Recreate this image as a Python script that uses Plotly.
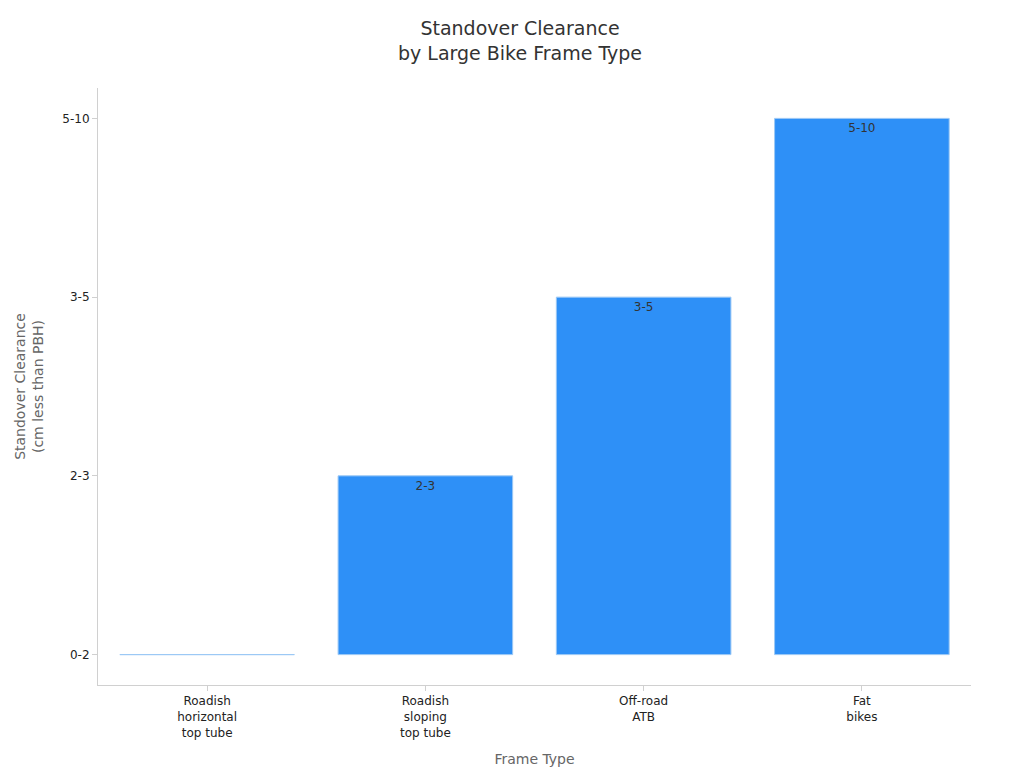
import plotly.graph_objects as go

frames = ["Roadish<br>horizontal<br>top tube", "Roadish<br>sloping<br>top tube", "Off-road<br>ATB", "Fat<br>bikes"]
clearance = ["0-2", "2-3", "3-5", "5-10"]
labels = ["", "2-3", "3-5", "5-10"]

fig = go.Figure(go.Bar(
    x=frames, y=clearance, text=labels,
    textposition="inside", insidetextanchor="end",
    textfont=dict(color="#333333", size=12),
    marker=dict(color="#2E90F7", line=dict(color="#9CC8F5", width=1)),
    width=0.8,
))
fig.update_layout(
    width=1024, height=768,
    font=dict(family="DejaVu Sans", size=12, color="#222222"),
    title=dict(text="Standover Clearance<br>by Large Bike Frame Type", x=0.5, y=0.965,
               xanchor="center", font=dict(size=19, color="#333333")),
    plot_bgcolor="white", paper_bgcolor="white",
    margin=dict(l=90, r=61, t=80, b=91),
    showlegend=False,
)
fig.update_xaxes(title=dict(text="Frame Type", font=dict(size=14, color="#666666")),
                 showline=True, linecolor="#D0D0D0", ticks="outside", tickcolor="#D0D0D0",
                 showgrid=False)
fig.update_yaxes(title=dict(text="Standover Clearance<br>(cm less than PBH)", font=dict(size=14, color="#666666")),
                 type="category", categoryorder="array", categoryarray=clearance,
                 range=[-0.17, 3.17],
                 showline=True, linecolor="#D0D0D0", ticks="outside", tickcolor="#D0D0D0",
                 showgrid=False)
fig.write_html("out.html")
